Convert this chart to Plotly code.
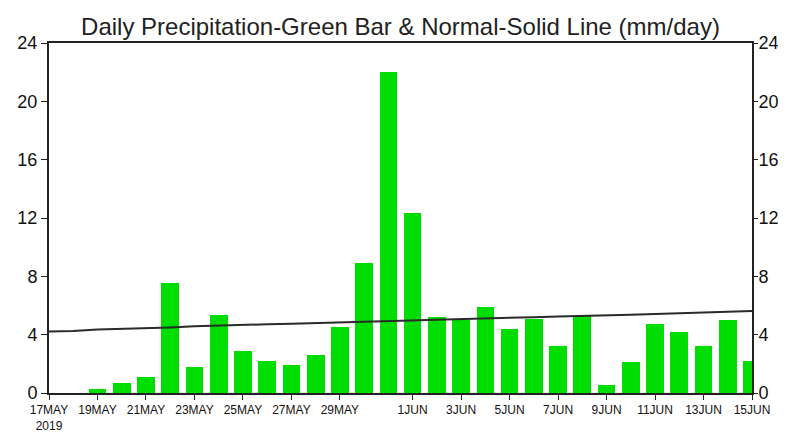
import plotly.graph_objects as go
import pandas as pd

dates = pd.date_range("2019-05-17", "2019-06-15", freq="D")
precip = [0.0, 0.0, 0.3, 0.7, 1.1, 7.55, 1.8, 5.35, 2.9, 2.2, 1.95, 2.6, 4.55, 8.9,
          22.0, 12.35, 5.2, 5.0, 5.9, 4.4, 5.1, 3.2, 5.3, 0.55, 2.1, 4.7, 4.15, 3.2, 5.0, 2.2]
normal = [4.22, 4.25, 4.36, 4.40, 4.45, 4.50, 4.58, 4.64, 4.68, 4.71, 4.75, 4.80, 4.85, 4.90,
          4.93, 5.00, 5.02, 5.05, 5.10, 5.16, 5.20, 5.24, 5.30, 5.34, 5.37, 5.41, 5.46, 5.50, 5.55, 5.62]
tick_vals = list(pd.date_range("2019-05-17", "2019-05-29", freq="2D")) + \
            list(pd.date_range("2019-06-01", "2019-06-15", freq="2D"))
tick_text = ["17MAY<br>2019", "19MAY", "21MAY", "23MAY", "25MAY", "27MAY", "29MAY",
             "1JUN", "3JUN", "5JUN", "7JUN", "9JUN", "11JUN", "13JUN", "15JUN"]
y_ticks = [0, 4, 8, 12, 16, 20, 24]

font_fam = "Liberation Sans, Arial, sans-serif"

fig = go.Figure()
fig.add_trace(go.Bar(x=dates, y=precip, marker=dict(color="#00dd00", line=dict(width=0)),
                     width=0.73 * 86400000, showlegend=False))
fig.add_trace(go.Scatter(x=dates, y=normal, mode="lines", line=dict(color="#2a2a2a", width=2),
                         showlegend=False))
fig.add_trace(go.Scatter(x=[dates[0]], y=[0], yaxis="y2", mode="markers",
                         marker=dict(opacity=0), showlegend=False, hoverinfo="skip"))

fig.update_layout(
    width=778, height=431,
    margin=dict(l=41, r=34, t=35, b=46),
    paper_bgcolor="white", plot_bgcolor="white",
    bargap=0,
    title=dict(text="Daily Precipitation-Green Bar & Normal-Solid Line (mm/day)",
               x=0.5, xref="paper", xanchor="center", y=0.958, yanchor="middle",
               font=dict(family=font_fam, size=24, color="#222")),
    xaxis=dict(range=[dates[0], dates[-1]], tickvals=tick_vals, ticktext=tick_text,
               tickangle=0, automargin=False,
               showgrid=False, zeroline=False, showline=True, linecolor="#222", linewidth=2,
               mirror=True, ticks="outside", ticklen=5, tickcolor="#222",
               tickfont=dict(family=font_fam, size=12, color="#111")),
    yaxis=dict(range=[0, 24], tickvals=y_ticks, showgrid=False, zeroline=False, automargin=False,
               showline=True, linecolor="#222", linewidth=2, ticks="outside", ticklen=6,
               tickcolor="#222", tickfont=dict(family=font_fam, size=18, color="#111")),
    yaxis2=dict(range=[0, 24], tickvals=y_ticks, overlaying="y", side="right", automargin=False,
                showgrid=False, zeroline=False, showline=True, linecolor="#222", linewidth=2,
                ticks="outside", ticklen=4, tickcolor="#222", ticklabelstandoff=-3,
                tickfont=dict(family=font_fam, size=18, color="#111")),
)
fig.write_html("out.html")
